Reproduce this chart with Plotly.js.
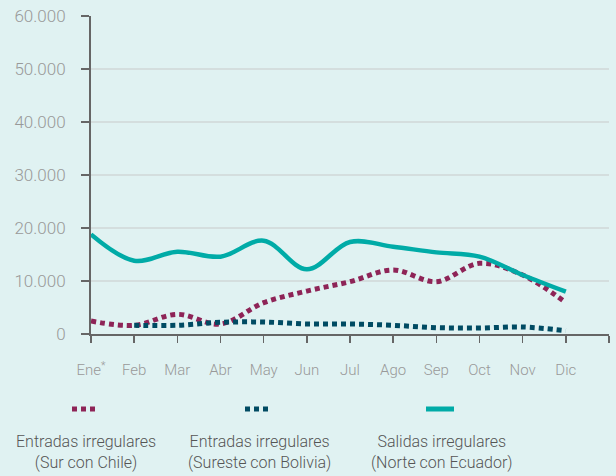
<!DOCTYPE html>
<html>
<head>
<meta charset="utf-8">
<script src="https://cdn.plot.ly/plotly-3.0.1.min.js"></script>
<style>html,body{margin:0;padding:0;background:#E0F2F2;}#chart{width:616px;height:476px;}</style>
</head>
<body>
<div id="chart"></div>
<script>
var months = ["Ene<sup>*</sup>", "Feb", "Mar", "Abr", "May", "Jun", "Jul", "Ago", "Sep", "Oct", "Nov", "Dic"];
var chile = [2450, 1640, 3710, 1890, 5910, 8100, 9870, 12080, 9870, 13330, 11130, 5910];
var bolivia = [null, 1640, 1640, 2200, 2260, 1890, 1890, 1640, 1200, 1130, 1320, 630];
var ecuador = [18800, 13830, 15530, 14590, 17600, 12200, 17360, 16470, 15400, 14600, 11130, 7980];
var seriesNames = ["Entradas irregulares<br>(Sur con Chile)", "Entradas irregulares<br>(Sureste con Bolivia)", "Salidas irregulares<br>(Norte con Ecuador)"];
var yTicks = [0, 10000, 20000, 30000, 40000, 50000, 60000];

var xIdx = months.map(function(_, i){ return i; });
var tickVals = xIdx.concat([months.length]);
var tickText = months.concat(["\u00a0"]);

var colors = ["#8E2457", "#004B63", "#00ABA7"];

var traces = [
  {x: xIdx, y: chile, mode: "lines", line: {color: colors[0], width: 5, dash: "5px,4px", shape: "spline", smoothing: 1}},
  {x: xIdx, y: bolivia, mode: "lines", line: {color: colors[1], width: 5, dash: "5px,4px", shape: "spline", smoothing: 1}},
  {x: xIdx, y: ecuador, mode: "lines", line: {color: colors[2], width: 4.5, shape: "spline", smoothing: 1}}
];

var plotL = 91, plotR = 609, plotT = 16, plotB = 334;
function px(p){ return (p - plotL) / (plotR - plotL); }
function py(p){ return (plotB - p) / (plotB - plotT); }

var legendCenters = [84, 257, 440];
var textCenters = [86, 259, 442];
var shapes = [];
var annotations = [];
legendCenters.forEach(function(c, i){
  var halfW = i === 2 ? 14 : 12;
  shapes.push({type: "line", xref: "paper", yref: "paper", x0: px(c - halfW), x1: px(c + halfW), y0: py(409), y1: py(409),
    line: {color: colors[i], width: 5, dash: i === 2 ? "solid" : "5px,4px"}});
  annotations.push({xref: "paper", yref: "paper", x: px(textCenters[i]), y: py(452), xanchor: "center", yanchor: "middle",
    text: seriesNames[i], showarrow: false, align: "center",
    font: {family: "Roboto", size: 16, color: "#555555", weight: 300}});
});

var layout = {
  width: 616, height: 476,
  margin: {l: plotL, r: 616 - plotR, t: plotT, b: 476 - plotB},
  paper_bgcolor: "#E0F2F2", plot_bgcolor: "#E0F2F2",
  showlegend: false,
  separators: ",.",
  xaxis: {
    range: [0, months.length], tickmode: "array", tickvals: tickVals, ticktext: tickText,
    showgrid: false, zeroline: false, showline: true, linecolor: "#666666", linewidth: 2,
    ticks: "outside", ticklen: 7, tickwidth: 1.5, tickcolor: "#666666",
    ticklabelstandoff: 14,
    tickfont: {family: "Roboto", size: 15, color: "#999999", weight: 300}
  },
  yaxis: {
    range: [0, 60000], tickmode: "array", tickvals: yTicks, tickformat: ",d",
    showgrid: true, gridcolor: "#D4DEDE", gridwidth: 1.5, zeroline: false,
    showline: true, linecolor: "#666666", linewidth: 2,
    ticks: "outside", ticklen: 8, tickwidth: 1.5, tickcolor: "#666666",
    ticklabelstandoff: 12,
    tickfont: {family: "Roboto", size: 17, color: "#999999", weight: 300}
  },
  shapes: shapes,
  annotations: annotations
};

Plotly.newPlot("chart", traces, layout, {displayModeBar: false, staticPlot: true});
</script>
</body>
</html>
